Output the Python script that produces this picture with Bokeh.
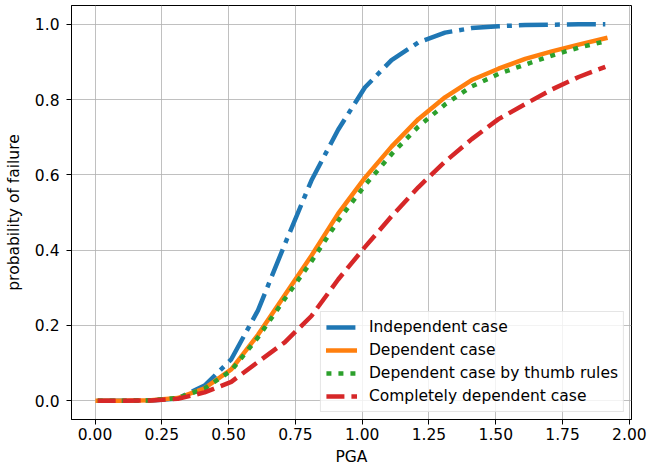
from bokeh.plotting import figure
from bokeh.models import Range1d, FixedTicker, PrintfTickFormatter, Legend, LegendItem
from bokeh.embed import file_html
from bokeh.resources import INLINE

# ---- data ----
pga = [0.01, 0.11, 0.21, 0.31, 0.41, 0.51, 0.61, 0.71, 0.81, 0.91,
       1.01, 1.11, 1.21, 1.31, 1.41, 1.51, 1.61, 1.71, 1.81, 1.91]
independent = [0.0, 0.0, 0.0005, 0.006, 0.04, 0.11, 0.24, 0.415, 0.585, 0.72,
               0.832, 0.905, 0.952, 0.978, 0.99, 0.995, 0.998, 0.999, 1.0, 1.0]
dependent = [0.0, 0.0, 0.001, 0.007, 0.033, 0.083, 0.175, 0.28, 0.385, 0.497,
             0.592, 0.675, 0.748, 0.806, 0.852, 0.882, 0.908, 0.928, 0.946, 0.963]
thumb_rules = [0.0, 0.0, 0.001, 0.007, 0.032, 0.08, 0.168, 0.27, 0.37, 0.478,
               0.572, 0.655, 0.728, 0.787, 0.835, 0.868, 0.893, 0.917, 0.938, 0.955]
completely_dependent = [0.0, 0.0, 0.0005, 0.005, 0.022, 0.05, 0.103, 0.155, 0.225, 0.322,
                        0.408, 0.49, 0.567, 0.635, 0.695, 0.748, 0.788, 0.827, 0.86, 0.887]

series_labels = ["Independent case", "Dependent case",
                 "Dependent case by thumb rules", "Completely dependent case"]
x_ticks = [0.0, 0.25, 0.5, 0.75, 1.0, 1.25, 1.5, 1.75, 2.0]
y_ticks = [0.0, 0.2, 0.4, 0.6, 0.8, 1.0]

FONT = "DejaVu Sans"
FS = "15.5px"

p = figure(width=666, height=468, output_backend="svg", toolbar_location=None,
           x_range=Range1d(-0.088, 2.008), y_range=Range1d(-0.05, 1.05),
           min_border_left=71, min_border_right=35, min_border_top=5,
           min_border_bottom=49, background_fill_color="white",
           border_fill_color="white")

p.outline_line_color = "black"
p.outline_line_width = 1
p.outline_line_alpha = 1

p.grid.grid_line_color = "#b0b0b0"
p.grid.grid_line_width = 0.8

p.xaxis.ticker = FixedTicker(ticks=x_ticks, minor_ticks=[])
p.yaxis.ticker = FixedTicker(ticks=y_ticks, minor_ticks=[])
p.xaxis.formatter = PrintfTickFormatter(format="%.2f")
p.yaxis.formatter = PrintfTickFormatter(format="%.1f")
p.xaxis.axis_label = "PGA"
p.yaxis.axis_label = "probability of failure"

for ax in (p.xaxis[0], p.yaxis[0]):
    ax.axis_line_color = "black"
    ax.axis_line_width = 1
    ax.major_tick_line_color = "black"
    ax.major_tick_line_width = 1
    ax.major_tick_in = 0
    ax.major_tick_out = 5
    ax.minor_tick_line_color = None
    ax.major_label_text_font = FONT
    ax.major_label_text_font_size = FS
    ax.major_label_text_color = "black"
    ax.axis_label_text_font = FONT
    ax.axis_label_text_font_size = FS
    ax.axis_label_text_font_style = "normal"
    ax.axis_label_text_color = "black"

p.xaxis.major_label_standoff = 3
p.xaxis.axis_label_standoff = 5
p.yaxis.major_label_standoff = 7
p.yaxis.axis_label_standoff = 9

r1 = p.line(pga, independent, line_color="#1f77b4", line_width=4.5,
            line_dash="29 7 5 7", line_cap="butt")
r2 = p.line(pga, dependent, line_color="#ff7f0e", line_width=4.5,
            line_cap="square", line_join="round")
r3 = p.line(pga, thumb_rules, line_color="#2ca02c", line_width=4.5,
            line_dash="5 7", line_cap="butt")
r4 = p.line(pga, completely_dependent, line_color="#d62728", line_width=4.5,
            line_dash="18 7", line_cap="butt")

legend = Legend(items=[LegendItem(label=series_labels[0], renderers=[r1]),
                       LegendItem(label=series_labels[1], renderers=[r2]),
                       LegendItem(label=series_labels[2], renderers=[r3]),
                       LegendItem(label=series_labels[3], renderers=[r4])],
                location="bottom_right", margin=7, padding=5, spacing=3,
                glyph_width=31, glyph_height=20, label_height=20,
                label_standoff=12,
                label_text_font=FONT, label_text_font_size=FS,
                label_text_color="black",
                background_fill_color="white", background_fill_alpha=0.8,
                border_line_color="#cccccc", border_line_width=1)
p.add_layout(legend)

open("out.html", "w").write(file_html(p, INLINE))
